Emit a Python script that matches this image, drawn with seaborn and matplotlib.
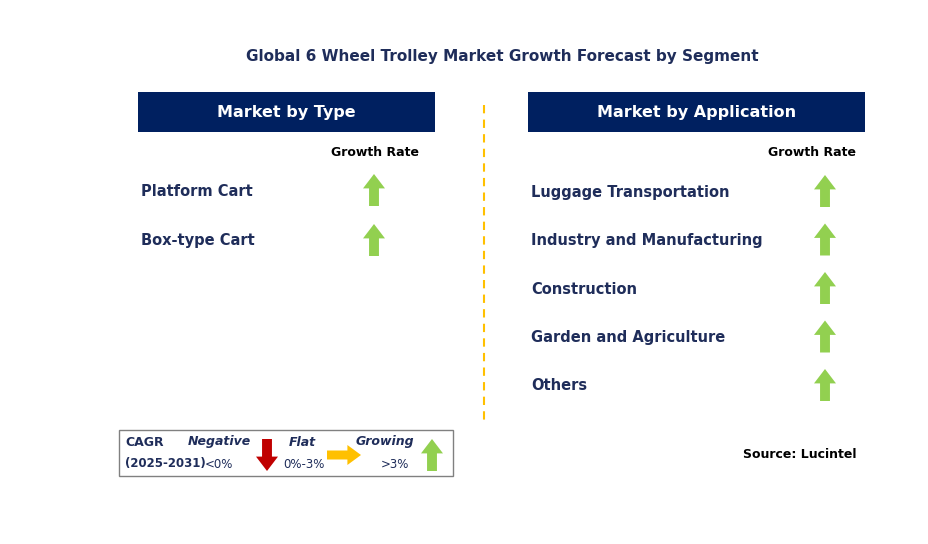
import matplotlib
matplotlib.use("Agg")
import matplotlib.pyplot as plt
import seaborn as sns
from matplotlib.patches import Rectangle, FancyArrow

sns.set_theme(style="white")

title = "Global 6 Wheel Trolley Market Growth Forecast by Segment"
type_header = "Market by Type"
app_header = "Market by Application"
type_categories = ["Platform Cart", "Box-type Cart"]
type_growth = ["growing", "growing"]
app_categories = ["Luggage Transportation", "Industry and Manufacturing",
                  "Construction", "Garden and Agriculture", "Others"]
app_growth = ["growing"] * 5
source = "Source: Lucintel"

NAVY = "#002060"
TXT = "#1F2D5A"
GREEN = "#92D050"
RED = "#C00000"
YELLOW = "#FFC000"

fig = plt.figure(figsize=(9.29, 5.44), dpi=100)
ax = fig.add_axes([0, 0, 1, 1])
ax.set_xlim(0, 929)
ax.set_ylim(544, 0)
ax.axis("off")

def up_arrow(x, yc, color=GREEN, h=32, w=22):
    ax.add_patch(FancyArrow(x, yc + h / 2, 0, -h, width=w * 0.45, head_width=w,
                            head_length=h * 0.45, length_includes_head=True,
                            color=color, lw=0))

def down_arrow(x, yc, color=RED, h=32, w=22):
    ax.add_patch(FancyArrow(x, yc - h / 2, 0, h, width=w * 0.45, head_width=w,
                            head_length=h * 0.45, length_includes_head=True,
                            color=color, lw=0))

def right_arrow(xc, y, color=YELLOW, L=34, w=20):
    ax.add_patch(FancyArrow(xc - L / 2, y, L, 0, width=w * 0.45, head_width=w,
                            head_length=L * 0.4, length_includes_head=True,
                            color=color, lw=0))

ax.text(502, 57, title, ha="center", va="center", fontsize=11, fontweight="bold", color=TXT)

for (x0, x1), hdr in [((138, 435), type_header), ((528, 865), app_header)]:
    ax.add_patch(Rectangle((x0, 92), x1 - x0, 40, color=NAVY, lw=0))
    ax.text((x0 + x1) / 2, 112, hdr, ha="center", va="center", fontsize=11.5,
            fontweight="bold", color="white")

ax.plot([484, 484], [105, 420], ls=(0, (4, 3)), color=YELLOW, lw=1.5)

ax.text(375, 152, "Growth Rate", ha="center", va="center", fontsize=9, fontweight="bold", color="black")
ax.text(812, 152, "Growth Rate", ha="center", va="center", fontsize=9, fontweight="bold", color="black")

for i, (c, g) in enumerate(zip(type_categories, type_growth)):
    y = 191 + 50 * i
    ax.text(141, y, c, ha="left", va="center", fontsize=10.5, fontweight="bold", color=TXT)
    up_arrow(374, y - 1)

for i, (c, g) in enumerate(zip(app_categories, app_growth)):
    y = 192 + 48.5 * i
    ax.text(531, y, c, ha="left", va="center", fontsize=10.5, fontweight="bold", color=TXT)
    up_arrow(825, y - 1)

# legend box
ax.add_patch(Rectangle((119, 430), 334, 46, fill=False, ec="#808080", lw=1))
ax.text(125, 443, "CAGR", fontsize=9, fontweight="bold", color=TXT, va="center")
ax.text(125, 463, "(2025-2031)", fontsize=8.5, fontweight="bold", color=TXT, va="center")
ax.text(219, 442, "Negative", fontsize=9, fontweight="bold", style="italic", color=TXT, va="center", ha="center")
ax.text(219, 464, "<0%", fontsize=8.5, color=TXT, va="center", ha="center")
down_arrow(267, 455)
ax.text(302, 442, "Flat", fontsize=9, fontweight="bold", style="italic", color=TXT, va="center", ha="center")
ax.text(304, 464, "0%-3%", fontsize=8.5, color=TXT, va="center", ha="center")
right_arrow(344, 455)
ax.text(385, 442, "Growing", fontsize=9, fontweight="bold", style="italic", color=TXT, va="center", ha="center")
ax.text(395, 464, ">3%", fontsize=8.5, color=TXT, va="center", ha="center")
up_arrow(432, 455)

ax.text(800, 455, source, ha="center", va="center", fontsize=9, fontweight="bold", color="black")

fig.savefig("out.png", dpi=100)
